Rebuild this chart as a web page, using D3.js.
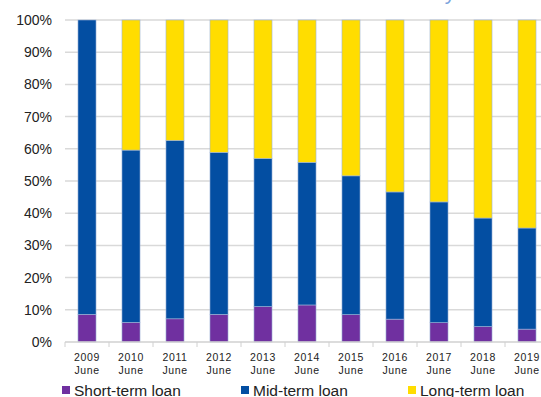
<!DOCTYPE html>
<html><head><meta charset="utf-8">
<script src="https://cdn.jsdelivr.net/npm/d3@7"></script>
<style>body{margin:0;background:#fff;}svg{display:block;font-family:"Liberation Sans",Arial,sans-serif;}</style>
</head><body>
<svg id="c" width="541" height="397"></svg>
<script>
const years = ["2009","2010","2011","2012","2013","2014","2015","2016","2017","2018","2019"];
const shortTerm = [8.6, 6.1, 7.2, 8.6, 11.0, 11.5, 8.5, 7.1, 6.0, 4.8, 4.0];
const midTerm = [91.4, 53.5, 55.4, 50.3, 46.0, 44.3, 43.1, 39.5, 37.5, 33.7, 31.4];
const longTerm = years.map((y,i)=>+(100-shortTerm[i]-midTerm[i]).toFixed(1));
const seriesNames = ["Short-term loan","Mid-term loan","Long-term loan"];
const colors = ["#7030A0","#034EA2","#FFDD00"];
const yTicks = [0,10,20,30,40,50,60,70,80,90,100];

const svg = d3.select("#c");
const x = d3.scaleBand().domain(years).range([65,549]).paddingInner(0.59).paddingOuter(0.295);
const y = d3.scaleLinear().domain([0,100]).range([342,20]);

// title (cut off at top)
svg.append("text").attr("x",33).attr("y",0).attr("fill","#7BA3DC").attr("font-size",21)
  .attr("textLength",480).text("Chart 3: Share to total loan - loans by term");

// gridlines
svg.append("g").selectAll("line").data(yTicks.slice(1)).join("line")
  .attr("x1",65).attr("x2",541).attr("y1",d=>y(d)).attr("y2",d=>y(d))
  .attr("stroke","#D9D9D9").attr("stroke-width",1.5);

// y labels
svg.append("g").selectAll("text").data(yTicks).join("text")
  .attr("x",52).attr("y",d=>y(d)).attr("dy","0.35em").attr("text-anchor","end")
  .attr("font-size",14).attr("fill","#222").text(d=>d+"%");

const rows = years.map((yr,i)=>({year:yr, s:shortTerm[i], m:midTerm[i], l:longTerm[i]}));
const stack = d3.stack().keys(["s","m","l"])(rows);
svg.append("g").selectAll("g").data(stack).join("g").attr("fill",(d,i)=>colors[i])
  .selectAll("rect").data(d=>d).join("rect")
  .attr("x",d=>x(d.data.year)).attr("width",x.bandwidth())
  .attr("y",d=>y(d[1])).attr("height",d=>y(d[0])-y(d[1]))
  .attr("stroke","#9DB3D8").attr("stroke-width",0.6);

// x axis
const xa = svg.append("g");
xa.append("line").attr("x1",65).attr("x2",541).attr("y1",342).attr("y2",342).attr("stroke","#D0D0D0").attr("stroke-width",1.5);
const step = x.step();
xa.selectAll("line.t").data(d3.range(0,12)).join("line").attr("class","t")
  .attr("x1",d=>65+d*step).attr("x2",d=>65+d*step).attr("y1",342).attr("y2",347)
  .attr("stroke","#D0D0D0").attr("stroke-width",1);
const lab = xa.selectAll("text").data(years).join("text")
  .attr("x",d=>x(d)+x.bandwidth()/2).attr("text-anchor","middle").attr("font-size",10.5)
  .attr("letter-spacing",0.6).attr("fill","#222");
lab.append("tspan").attr("x",d=>x(d)+x.bandwidth()/2).attr("y",361).text(d=>d);
lab.append("tspan").attr("x",d=>x(d)+x.bandwidth()/2).attr("y",374).text("June");

// legend
const legX = [62,241,408];
const lg = svg.append("g").selectAll("g").data(seriesNames).join("g")
  .attr("transform",(d,i)=>`translate(${legX[i]},0)`);
lg.append("rect").attr("x",0).attr("y",386).attr("width",8).attr("height",8).attr("fill",(d,i)=>colors[i]);
lg.append("text").attr("x",12).attr("y",396).attr("font-size",15.5).attr("fill","#222").text(d=>d);
</script>
</body></html>
